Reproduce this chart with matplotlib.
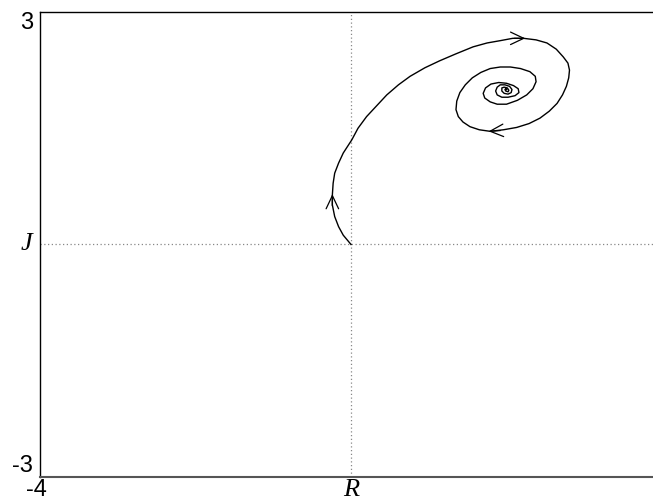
import matplotlib
matplotlib.use("Agg")
from matplotlib import pyplot as plt

# trajectory (R, J)
R_vals = [0.00, -0.05, -0.10, -0.16, -0.21, -0.24, -0.24, -0.23, -0.21, -0.16, -0.10, 0.01,
          0.09, 0.20, 0.33, 0.46, 0.61, 0.76, 0.95, 1.14, 1.35, 1.57, 1.75, 1.92, 2.08,
          2.22, 2.38, 2.52, 2.64, 2.73, 2.79, 2.81, 2.80, 2.77, 2.72, 2.65, 2.55, 2.43,
          2.29, 2.13, 1.96, 1.79, 1.65, 1.53, 1.44, 1.38, 1.35, 1.36, 1.40, 1.47, 1.56,
          1.67, 1.79, 1.92, 2.05, 2.18, 2.30, 2.37, 2.38, 2.34, 2.26, 2.14, 2.00, 1.88,
          1.79, 1.72, 1.70, 1.73, 1.80, 1.90, 2.00, 2.09, 2.15, 2.16, 2.11, 2.02,
          1.94, 1.88, 1.86, 1.88, 1.92, 1.98, 2.04, 2.07, 2.06, 2.02, 1.97, 1.94, 1.94,
          1.97, 2.01, 2.03, 2.02, 1.99, 1.98, 1.99, 2.00]
J_vals = [0.00, 0.06, 0.12, 0.23, 0.36, 0.51, 0.64, 0.79, 0.92, 1.05, 1.18, 1.35,
          1.50, 1.65, 1.79, 1.93, 2.06, 2.17, 2.28, 2.37, 2.46, 2.55, 2.60, 2.63, 2.66,
          2.66, 2.64, 2.60, 2.52, 2.42, 2.34, 2.25, 2.15, 2.04, 1.93, 1.82, 1.72, 1.63,
          1.56, 1.51, 1.48, 1.46, 1.48, 1.52, 1.58, 1.65, 1.74, 1.85, 1.96, 2.06, 2.15,
          2.22, 2.27, 2.29, 2.29, 2.27, 2.23, 2.17, 2.10, 2.01, 1.93, 1.86, 1.81, 1.81,
          1.84, 1.89, 1.95, 2.02, 2.07, 2.09, 2.08, 2.05, 2.01, 1.96, 1.92, 1.90,
          1.90, 1.93, 1.98, 2.03, 2.06, 2.06, 2.04, 2.00, 1.96, 1.94, 1.95, 1.98, 2.02,
          2.03, 2.02, 1.99, 1.97, 1.98, 2.00, 2.01, 2.00]

# direction arrows: (tail, tip)
arrow_tails = [(-0.24, 0.50), (2.10, 2.66), (1.92, 1.47)]
arrow_tips = [(-0.24, 0.65), (2.24, 2.66), (1.77, 1.46)]

x_lim = (-4, 4)
y_lim = (-3, 3)


def main():
    """main"""
    fig = plt.figure(figsize=(6.53, 5.03), dpi=100)
    ax = fig.add_axes([0.0613, 0.0517, 0.9525, 0.9245])
    ax.set_xlim(*x_lim)
    ax.set_ylim(*y_lim)
    ax.set_xticks([])
    ax.set_yticks([])
    for s in ax.spines.values():
        s.set_linewidth(1.0)
        s.set_color("black")
    ax.spines["bottom"].set_color("#555555")
    ax.spines["bottom"].set_linewidth(1.5)

    ax.axvline(0, color="#888888", lw=0.9, ls=(0, (1, 2)))
    ax.axhline(0, color="#888888", lw=0.9, ls=(0, (1, 2)))

    ax.plot(R_vals, J_vals, color="black", lw=1.0)
    for tail, tip in zip(arrow_tails, arrow_tips):
        ax.annotate("", xy=tip, xytext=tail,
                    arrowprops=dict(arrowstyle="->,head_length=0.95,head_width=0.45",
                                    color="black", lw=0.9, shrinkA=0, shrinkB=0))

    num = dict(family="Liberation Sans", fontsize=17, clip_on=False)
    lab = dict(family="Liberation Serif", style="italic", fontsize=19, clip_on=False)
    ax.text(-4.09, 3.0, "3", ha="right", va="top", **num)
    ax.text(-4.09, -3.0, "-3", ha="right", va="bottom", **num)
    ax.text(-4.05, -3.03, "-4", ha="center", va="top", **num)
    ax.text(4.0, -3.03, "4", ha="center", va="top", **num)
    ax.text(0.0, -3.03, "R", ha="center", va="top", **lab)
    ax.text(-4.1, 0.0, "J", ha="right", va="center", **lab)

    fig.savefig("out.png", dpi=100)


if __name__ == "__main__":
    main()
